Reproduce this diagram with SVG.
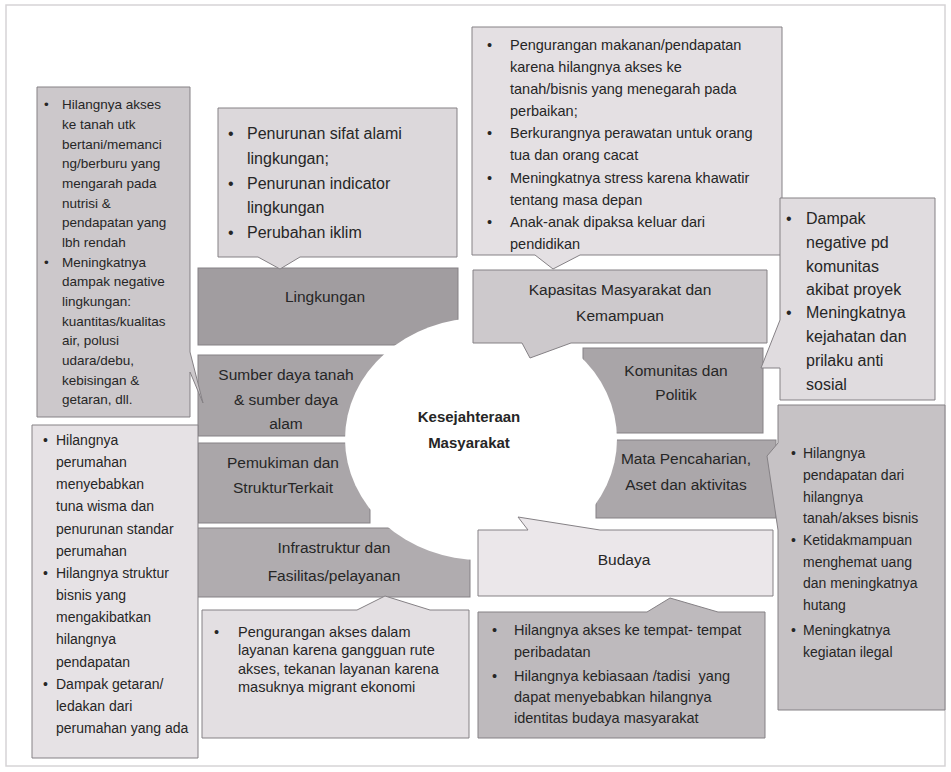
<svg xmlns="http://www.w3.org/2000/svg" width="951" height="772" viewBox="0 0 951 772">
<style>
.b{stroke:#858185;stroke-width:1}
.t{font-family:"Liberation Sans",Arial,sans-serif;fill:#262626}
.lab{font-size:15.5px;text-anchor:middle}
.ctr{font-size:15px;font-weight:bold;text-anchor:middle}
</style>
<rect x="0" y="0" width="951" height="772" fill="#ffffff"/>
<rect x="6" y="5" width="939" height="761" fill="none" stroke="#d6d4d6" stroke-width="1.5"/>

<!-- category boxes under the circle -->
<g id="lingkungan"><rect class="b" x="198" y="268" width="260" height="77" fill="#a19da0"/></g>
<g id="sumberdaya"><rect class="b" x="198" y="355" width="187" height="81" fill="#a8a4a7"/></g>
<g id="pemukiman"><rect class="b" x="198" y="443" width="172" height="80" fill="#aaa6a9"/></g>
<g id="infrastruktur"><rect class="b" x="197" y="528" width="273" height="69" fill="#b0acaf"/></g>
<g id="komunitas"><rect class="b" x="583" y="348" width="180" height="85" fill="#a9a5a8"/></g>
<g id="mata"><rect class="b" x="596" y="440" width="180" height="78" fill="#aba7aa"/></g>

<!-- center -->
<g id="center"><ellipse cx="481" cy="439" rx="136" ry="121" fill="#ffffff"/></g>

<g id="kapasitas"><path class="b" d="M473,270 H767 V343 H571 L530,358 L522,343 H473 Z" fill="#cdc9cc"/></g>
<g id="budaya"><path class="b" d="M478,530 H528 L518,517 L600,530 H773 V596 H478 Z" fill="#ebe7ea"/></g>

<!-- callouts (connectors) -->
<g id="connectors">
<path class="b" d="M218,108 H457 V257 H300 L280,269 L258,257 H218 Z" fill="#dcd8db"/>
<path class="b" d="M472,27 H782 V255 H580 L553,269 L535,255 H472 Z" fill="#e4e0e3"/>
<path class="b" d="M37,87 H190 V352 L203,403 L190,372 V417 H37 Z" fill="#ccc8cb"/>
<path class="b" d="M780,198 H935 V400 H780 V368 H761 L780,320 Z" fill="#e0dcdf"/>
<path class="b" d="M778,405 H945 V710 H778 V530 L767,456 L778,443 Z" fill="#c6c2c5"/>
<path class="b" d="M32,425 H198 V758 H32 Z" fill="#e6e2e5"/>
<path class="b" d="M202,610 H357 L385,596 L430,610 H469 V738 H202 Z" fill="#e3dfe2"/>
<path class="b" d="M478,612 H647 L670,598 L718,612 H765 V738 H478 Z" fill="#bebabd"/>
</g>

<!-- labels -->
<g id="labels" class="t">
<text class="t lab" x="325" y="302">Lingkungan</text>
<text class="t lab" x="286" y="380">Sumber daya tanah</text>
<text class="t lab" x="286" y="405">&amp; sumber daya</text>
<text class="t lab" x="286" y="429">alam</text>
<text class="t lab" x="283" y="468">Pemukiman dan</text>
<text class="t lab" x="283" y="493">StrukturTerkait</text>
<text class="t lab" x="334" y="553">Infrastruktur dan</text>
<text class="t lab" x="334" y="581">Fasilitas/pelayanan</text>
<text class="t lab" x="620" y="295">Kapasitas Masyarakat dan</text>
<text class="t lab" x="620" y="321">Kemampuan</text>
<text class="t lab" x="676" y="376">Komunitas dan</text>
<text class="t lab" x="676" y="400">Politik</text>
<text class="t lab" x="686" y="464">Mata Pencaharian,</text>
<text class="t lab" x="686" y="490">Aset dan aktivitas</text>
<text class="t lab" x="624" y="565">Budaya</text>
<text class="t ctr" x="469" y="422">Kesejahteraan</text>
<text class="t ctr" x="469" y="448">Masyarakat</text>
</g>

<!-- callout texts -->
<g id="c-lingkungan" class="t" font-size="16">
<text x="228" y="139">•</text><text x="247" y="139">Penurunan sifat alami</text>
<text x="247" y="164">lingkungan;</text>
<text x="228" y="189">•</text><text x="247" y="189">Penurunan indicator</text>
<text x="247" y="213">lingkungan</text>
<text x="228" y="238">•</text><text x="247" y="238">Perubahan iklim</text>
</g>

<g id="c-kapasitas" class="t" font-size="14.5">
<text x="487" y="50">•</text><text x="510" y="50">Pengurangan makanan/pendapatan</text>
<text x="510" y="72">karena hilangnya akses ke</text>
<text x="510" y="94">tanah/bisnis yang menegarah pada</text>
<text x="510" y="116">perbaikan;</text>
<text x="487" y="138">•</text><text x="510" y="138">Berkurangnya perawatan untuk orang</text>
<text x="510" y="160">tua dan orang cacat</text>
<text x="487" y="183">•</text><text x="510" y="183">Meningkatnya stress karena khawatir</text>
<text x="510" y="205">tentang masa depan</text>
<text x="487" y="227">•</text><text x="510" y="227">Anak-anak dipaksa keluar dari</text>
<text x="510" y="249">pendidikan</text>
</g>

<g id="c-sumberdaya" class="t" font-size="13.5">
<text x="44" y="109">•</text><text x="62" y="109">Hilangnya akses</text>
<text x="62" y="129">ke tanah utk</text>
<text x="62" y="149">bertani/memanci</text>
<text x="62" y="168">ng/berburu yang</text>
<text x="62" y="188">mengarah pada</text>
<text x="62" y="208">nutrisi &amp;</text>
<text x="62" y="227">pendapatan yang</text>
<text x="62" y="247">lbh rendah</text>
<text x="44" y="267">•</text><text x="62" y="267">Meningkatnya</text>
<text x="62" y="286">dampak negative</text>
<text x="62" y="306">lingkungan:</text>
<text x="62" y="326">kuantitas/kualitas</text>
<text x="62" y="345">air, polusi</text>
<text x="62" y="365">udara/debu,</text>
<text x="62" y="385">kebisingan &amp;</text>
<text x="62" y="404">getaran, dll.</text>
</g>

<g id="c-komunitas" class="t" font-size="16">
<text x="786" y="224">•</text><text x="806" y="224">Dampak</text>
<text x="806" y="248">negative pd</text>
<text x="806" y="272">komunitas</text>
<text x="806" y="295">akibat proyek</text>
<text x="786" y="318">•</text><text x="806" y="318">Meningkatnya</text>
<text x="806" y="342">kejahatan dan</text>
<text x="806" y="366">prilaku anti</text>
<text x="806" y="390">sosial</text>
</g>

<g id="c-mata" class="t" font-size="14">
<text x="791" y="458">•</text><text x="803" y="458">Hilangnya</text>
<text x="803" y="480">pendapatan dari</text>
<text x="803" y="502">hilangnya</text>
<text x="803" y="523">tanah/akses bisnis</text>
<text x="791" y="545">•</text><text x="803" y="545">Ketidakmampuan</text>
<text x="803" y="567">menghemat uang</text>
<text x="803" y="588">dan meningkatnya</text>
<text x="803" y="610">hutang</text>
<text x="791" y="635">•</text><text x="803" y="635">Meningkatnya</text>
<text x="803" y="657">kegiatan ilegal</text>
</g>

<g id="c-pemukiman" class="t" font-size="14">
<text x="43" y="445">•</text><text x="56" y="445">Hilangnya</text>
<text x="56" y="467">perumahan</text>
<text x="56" y="489">menyebabkan</text>
<text x="56" y="511">tuna wisma dan</text>
<text x="56" y="534">penurunan standar</text>
<text x="56" y="556">perumahan</text>
<text x="43" y="578">•</text><text x="56" y="578">Hilangnya struktur</text>
<text x="56" y="600">bisnis yang</text>
<text x="56" y="622">mengakibatkan</text>
<text x="56" y="644">hilangnya</text>
<text x="56" y="667">pendapatan</text>
<text x="43" y="689">•</text><text x="56" y="689">Dampak getaran/</text>
<text x="56" y="711">ledakan dari</text>
<text x="56" y="733">perumahan yang ada</text>
</g>

<g id="c-infrastruktur" class="t" font-size="14.5">
<text x="214" y="637">•</text><text x="238" y="637">Pengurangan akses dalam</text>
<text x="238" y="655">layanan karena gangguan rute</text>
<text x="238" y="674">akses, tekanan layanan karena</text>
<text x="238" y="692">masuknya migrant ekonomi</text>
</g>

<g id="c-budaya" class="t" font-size="14.5">
<text x="492" y="635">•</text><text x="514" y="635">Hilangnya akses ke tempat- tempat</text>
<text x="514" y="657">peribadatan</text>
<text x="492" y="681">•</text><text x="514" y="681">Hilangnya kebiasaan /tadisi&#160; yang</text>
<text x="514" y="702">dapat menyebabkan hilangnya</text>
<text x="514" y="723">identitas budaya masyarakat</text>
</g>
</svg>
